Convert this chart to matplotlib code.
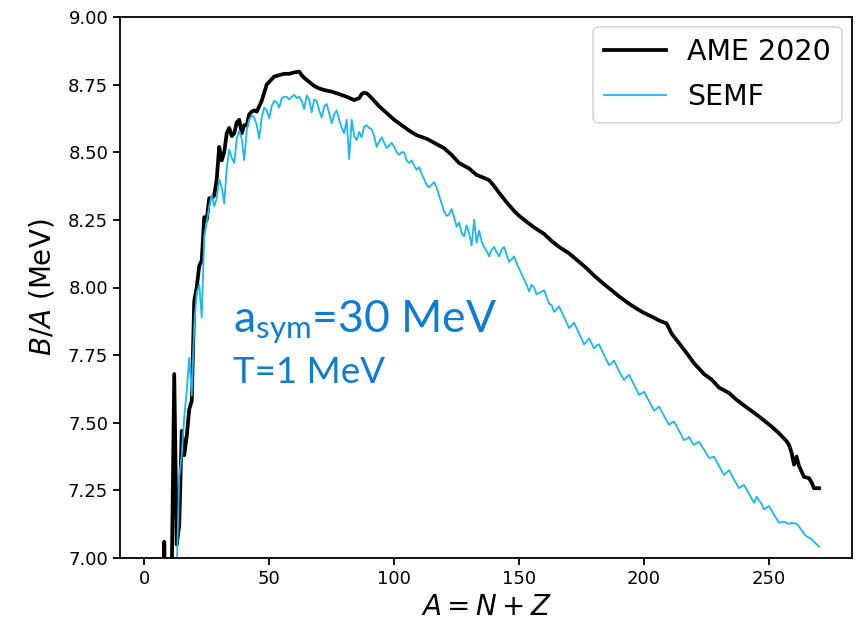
import matplotlib
matplotlib.use("Agg")
import matplotlib.pyplot as plt

# ---------------- data ----------------
ame_A = [6, 7, 8, 9, 10, 11, 12, 13, 14, 15, 16, 17, 18, 19, 20, 21, 22, 23, 24, 25,
         26, 27, 28, 29, 30, 31, 32, 33, 34, 35, 36, 37, 38, 39, 40, 41, 42, 43, 44, 45,
         46, 47, 48, 49, 50, 52, 54, 56, 58, 60, 62, 63, 64, 66, 68, 70, 72, 75, 78, 81,
         84, 86, 87, 88, 89, 90, 92, 94, 97, 100, 103, 106, 109, 113, 117, 120, 123, 126,
         130, 133, 136, 138, 140, 142, 145, 148, 150, 153, 156, 160, 163, 166, 170, 174,
         177, 180, 184, 187, 190, 194, 197, 200, 204, 206, 209, 211, 214, 217, 220, 224,
         227, 230, 234, 237, 241, 244, 247, 251, 254, 257, 258, 259, 260, 261, 262, 263,
         264, 266, 267, 268, 270]
ame_BA = [5.33, 5.61, 7.06, 6.46, 6.48, 6.93, 7.68, 7.05, 7.12, 7.47, 7.38, 7.45, 7.55, 7.58,
          7.95, 8.00, 8.08, 8.10, 8.26, 8.25, 8.33, 8.33, 8.34, 8.40, 8.52, 8.47, 8.50,
          8.57, 8.59, 8.56, 8.57, 8.61, 8.62, 8.57, 8.60, 8.60, 8.64, 8.65, 8.655, 8.65,
          8.67, 8.69, 8.72, 8.75, 8.76, 8.78, 8.785, 8.79, 8.79, 8.795, 8.798, 8.785,
          8.775, 8.76, 8.745, 8.736, 8.73, 8.724, 8.715, 8.705, 8.693, 8.70, 8.715, 8.72,
          8.718, 8.71, 8.69, 8.67, 8.645, 8.62, 8.60, 8.58, 8.563, 8.55, 8.53, 8.515,
          8.49, 8.46, 8.44, 8.416, 8.405, 8.397, 8.375, 8.35, 8.315, 8.283, 8.265, 8.243,
          8.222, 8.198, 8.172, 8.15, 8.126, 8.095, 8.071, 8.044, 8.012, 7.99, 7.967, 7.94,
          7.922, 7.906, 7.888, 7.878, 7.867, 7.83, 7.794, 7.758, 7.72, 7.68, 7.66, 7.63,
          7.61, 7.585, 7.557, 7.537, 7.516, 7.486, 7.461, 7.432, 7.418, 7.39, 7.345,
          7.375, 7.34, 7.32, 7.30, 7.295, 7.28, 7.258, 7.258]

semf_A = [12, 13, 14, 15, 16, 17, 18, 19, 20, 21, 22, 23, 24, 25, 26, 27, 28, 29, 30, 31,
          32, 33, 34, 35, 36, 37, 38, 39, 40, 41, 42, 43, 44, 45, 46, 47, 48, 49, 50, 51,
          52, 53, 54, 55, 56, 57, 58, 59, 60, 61, 62, 63, 64, 65, 66, 67, 68, 69, 70, 71,
          72, 73, 74, 75, 76, 77, 78, 79, 80, 81, 82, 83, 84, 85, 86, 87, 88, 89, 90, 91,
          92, 93, 94, 95, 96, 97, 98, 99, 100, 101, 102, 103, 104, 105, 106, 107, 108, 109,
          110, 111, 112, 113, 114, 115, 116, 117, 118, 119, 120, 121, 122, 123, 124, 125,
          126, 127, 128, 129, 130, 131, 132, 133, 134, 135, 136, 137, 138, 139, 140, 141,
          142, 143, 144, 145, 146, 147, 148, 149, 150, 151, 152, 153, 154, 155, 156, 157,
          158, 159, 160, 161, 162, 163, 164, 165, 166, 168, 170, 171, 172, 174, 176, 177,
          178, 180, 181, 182, 184, 186, 187, 188, 190, 192, 193, 194, 196, 198, 200, 202,
          204, 205, 206, 208, 210, 211, 212, 214, 216, 217, 218, 219, 220, 221, 222, 224,
          226, 227, 228, 230, 232, 234, 236, 238, 239, 240, 242, 244, 245, 247, 248, 250,
          252, 254, 256, 257, 258, 259, 260, 261, 262, 264, 265, 267, 268, 270]
semf_BA = [6.90, 6.95, 7.30, 7.38, 7.52, 7.62, 7.74, 7.60, 7.86, 7.98, 8.01, 7.89, 8.19,
           8.24, 8.30, 8.34, 8.30, 8.33, 8.40, 8.37, 8.31, 8.44, 8.51, 8.48, 8.46, 8.55,
           8.58, 8.55, 8.47, 8.58, 8.62, 8.635, 8.63, 8.60, 8.55, 8.63, 8.665, 8.655,
           8.625, 8.67, 8.69, 8.685, 8.665, 8.70, 8.705, 8.705, 8.695, 8.705, 8.712, 8.70,
           8.706, 8.69, 8.66, 8.71, 8.695, 8.648, 8.695, 8.69, 8.655, 8.628, 8.67, 8.678,
           8.645, 8.607, 8.64, 8.655, 8.62, 8.59, 8.57, 8.62, 8.475, 8.62, 8.56, 8.545,
           8.575, 8.555, 8.595, 8.60, 8.59, 8.585, 8.56, 8.52, 8.54, 8.555, 8.535, 8.515,
           8.525, 8.535, 8.52, 8.50, 8.49, 8.50, 8.50, 8.47, 8.46, 8.47, 8.45, 8.435,
           8.445, 8.42, 8.40, 8.38, 8.37, 8.38, 8.39, 8.37, 8.34, 8.31, 8.28, 8.265, 8.27,
           8.29, 8.26, 8.225, 8.24, 8.20, 8.19, 8.23, 8.20, 8.155, 8.25, 8.165, 8.21, 8.17,
           8.15, 8.135, 8.115, 8.14, 8.15, 8.13, 8.115, 8.14, 8.15, 8.12, 8.095, 8.105,
           8.115, 8.09, 8.07, 8.05, 8.03, 8.01, 7.985, 8.01, 8.00, 7.975, 7.98, 7.985,
           7.99, 7.965, 7.94, 7.935, 7.91, 7.92, 7.93, 7.89, 7.85, 7.86, 7.87, 7.83, 7.79,
           7.80, 7.812, 7.775, 7.785, 7.79, 7.75, 7.713, 7.72, 7.73, 7.69, 7.658, 7.668,
           7.677, 7.64, 7.603, 7.615, 7.58, 7.545, 7.552, 7.56, 7.525, 7.492, 7.50, 7.505,
           7.47, 7.436, 7.44, 7.448, 7.43, 7.418, 7.425, 7.43, 7.40, 7.37, 7.372, 7.374,
           7.34, 7.307, 7.325, 7.29, 7.258, 7.265, 7.27, 7.237, 7.204, 7.227, 7.20, 7.18,
           7.192, 7.16, 7.13, 7.134, 7.13, 7.126, 7.13, 7.128, 7.127, 7.116, 7.09, 7.08,
           7.07, 7.06, 7.042]

xticks = [0, 50, 100, 150, 200, 250]
yticks = [7.00, 7.25, 7.50, 7.75, 8.00, 8.25, 8.50, 8.75, 9.00]
series_labels = ["AME 2020", "SEMF"]
note_line1 = r"$\mathrm{a_{sym}}$=30 MeV"
note_line2 = "T=1 MeV"

# ---------------- figure ----------------
plt.rcParams['mathtext.rm'] = 'Lato'
plt.rcParams['mathtext.it'] = 'Lato:italic'
plt.rcParams['mathtext.bf'] = 'Lato:bold'

W, H = 856, 627
fig = plt.figure(figsize=(W / 100, H / 100), dpi=100)
L, R, T, B = 120, 852, 17, 558
ax = fig.add_axes([L / W, 1 - B / H, (R - L) / W, (B - T) / H])

ax.plot(ame_A, ame_BA, color='black', lw=2.7, label=series_labels[0])
ax.plot(semf_A, semf_BA, color='#1cb6f3', lw=1.3, label=series_labels[1])

ax.set_xlim(-9.7, 283.2)
ax.set_ylim(7.0, 9.0)
ax.set_xticks(xticks)
ax.set_yticks(yticks)
ax.set_yticklabels([f"{v:.2f}" for v in yticks])
ax.tick_params(labelsize=13, width=1.3, length=5, colors='black')
for s in ax.spines.values():
    s.set_linewidth(1.3)

ax.set_xlabel(r"$A = N + Z$", fontsize=20, labelpad=4)
ax.set_ylabel(r"$B/A$ (MeV)", fontsize=20, labelpad=8)

leg = ax.legend(loc='upper right', fontsize=20.5, frameon=True, borderaxespad=0.35,
                handlelength=2.15, handletextpad=0.75, labelspacing=0.6)
leg.get_frame().set_edgecolor('#cccccc')
leg.get_frame().set_linewidth(1.2)

note_color = '#0e7dd0'
ax.text(0.154, 0.418, note_line1, transform=ax.transAxes, fontsize=32,
        family='Lato', math_fontfamily='custom', color=note_color)
ax.text(0.154, 0.3235, note_line2, transform=ax.transAxes, fontsize=26.5,
        family='Lato', color=note_color)

fig.savefig("out.png", dpi=100)
